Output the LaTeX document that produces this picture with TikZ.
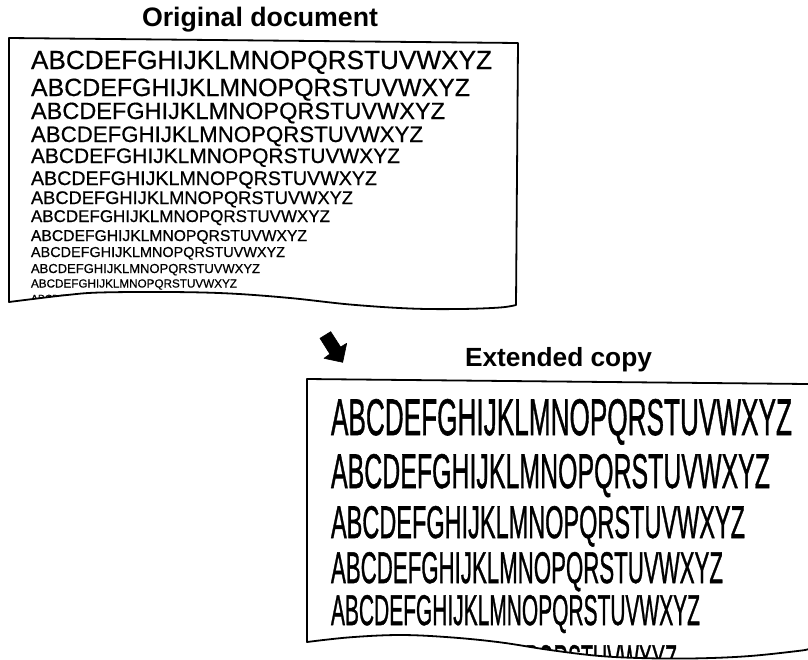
\documentclass[tikz,border=0pt]{standalone}
\usepackage{fontspec}
\setmainfont{Liberation Sans}
\newfontfamily\origfont[FakeBold=0.6]{Liberation Sans}
\newfontfamily\extfont[FakeBold=1.2]{Liberation Sans}
\usepackage{graphicx}
\newcommand\fitline[2]{\resizebox{#1pt}{#2pt}{\extfont ABCDEFGHIJKLMNOPQRSTUVWXYZ}}
\newcommand\natline[1]{\resizebox{#1pt}{!}{\origfont ABCDEFGHIJKLMNOPQRSTUVWXYZ}}
\begin{document}
\begin{tikzpicture}[x=1pt,y=-1pt,
  txt/.style={anchor=base west,inner sep=0pt,outer sep=0pt},
  paper/.style={line width=1.8pt,line join=round,line cap=round},
  pointer/.style={fill=black,draw=black,line width=0.6pt,line join=round}]
\useasboundingbox (0,0) rectangle (808,659);

% titles
\node[txt] (t1) at (142,26) {\resizebox{236pt}{!}{\bfseries Original document}};
\node[txt] (t2) at (465,366) {\resizebox{187pt}{!}{\bfseries Extended copy}};

% original document
\begin{scope}
\clip (9,302) -- (9,38) -- (518,43) -- (516,305) -- plot[smooth,tension=0.6] coordinates {(516,305) (500,307.5) (460,309) (410,308.5) (350,304.5) (290,298) (230,293.5) (170,292) (100,292.5) (67,295) (33,299) (9,302)} -- cycle;
\node[txt] (o1)  at (31,69)  {\natline{461}};
\node[txt] (o2)  at (31,96)  {\natline{439}};
\node[txt] (o3)  at (31,119) {\natline{414}};
\node[txt] (o4)  at (31,142) {\natline{392}};
\node[txt] (o5)  at (31,163) {\natline{369}};
\node[txt] (o6)  at (31,185) {\natline{346}};
\node[txt] (o7)  at (31,204) {\natline{322}};
\node[txt] (o8)  at (31,222) {\natline{299}};
\node[txt] (o9)  at (31,241) {\natline{276}};
\node[txt] (o10) at (31,257) {\natline{254}};
\node[txt] (o11) at (31,273) {\natline{229}};
\node[txt] (o12) at (31,287.5) {\natline{206}};
\node[txt] (o13) at (31,302) {\natline{183}};
\end{scope}
\draw[paper] (9,302) -- (9,38) -- (518,43) -- (516,305) -- plot[smooth,tension=0.6] coordinates {(516,305) (500,307.5) (460,309) (410,308.5) (350,304.5) (290,298) (230,293.5) (170,292) (100,292.5) (67,295) (33,299) (9,302)} -- cycle;

% arrow
\fill[pointer] (320,338.3) -- (330.7,331.7) -- (340.6,347) -- (346.7,343.3) -- (342.7,362.3) -- (324,358.3) -- (329.9,354) -- cycle;

% extended copy
\begin{scope}
\clip (307,642) -- (307,379) -- (808,384) -- (808,649) -- plot[smooth,tension=0.6] coordinates {(808,649) (800,650.7) (750,656) (700,658.3) (650,658.3) (600,656) (550,650) (500,642.3) (450,637.3) (400,635) (350,637.3) (307,642)} -- cycle;
\node[txt] (e1) at (331,435) {\fitline{461}{36}};
\node[txt] (e2) at (331,488) {\fitline{439}{34}};
\node[txt] (e3) at (331,538) {\fitline{414}{32}};
\node[txt] (e4) at (331,583) {\fitline{392}{31}};
\node[txt] (e5) at (331,625) {\fitline{369}{30}};
\node[txt] (e6) at (331,674) {\fitline{346}{29}};
\end{scope}
\draw[paper] (808,384) -- (307,379) -- (307,642) -- plot[smooth,tension=0.6] coordinates {(307,642) (350,637.3) (400,635) (450,637.3) (500,642.3) (550,650) (600,656) (650,658.3) (700,658.3) (750,656) (800,650.7) (808,649)};
\end{tikzpicture}
\end{document}
